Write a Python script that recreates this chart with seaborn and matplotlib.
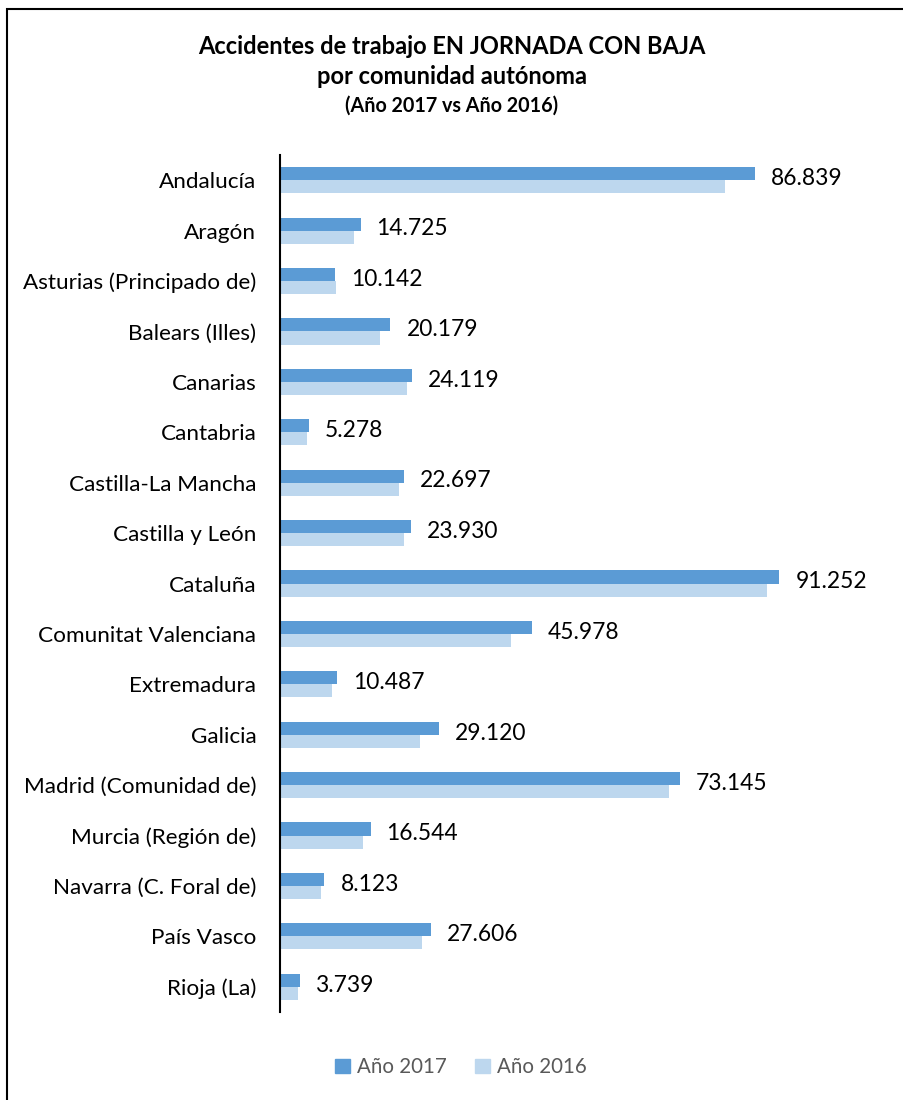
import pandas as pd
import matplotlib
matplotlib.use("Agg")
import matplotlib.pyplot as plt
import matplotlib.patches as mpatches
import seaborn as sns

# Data
comunidades = [
    "Andalucía", "Aragón", "Asturias (Principado de)", "Balears (Illes)",
    "Canarias", "Cantabria", "Castilla-La Mancha", "Castilla y León",
    "Cataluña", "Comunitat Valenciana", "Extremadura", "Galicia",
    "Madrid (Comunidad de)", "Murcia (Región de)", "Navarra (C. Foral de)",
    "País Vasco", "Rioja (La)",
]
valores_2017 = [86839, 14725, 10142, 20179, 24119, 5278, 22697, 23930,
                91252, 45978, 10487, 29120, 73145, 16544, 8123, 27606, 3739]
valores_2016 = [81350, 13530, 10300, 18280, 23220, 5000, 21750, 22670,
                89030, 42230, 9510, 25600, 71110, 15170, 7500, 25960, 3290]
series = ["Año 2017", "Año 2016"]
colores = ["#5B9BD5", "#BDD7EE"]

df = pd.DataFrame({
    "comunidad": comunidades * 2,
    "valor": valores_2017 + valores_2016,
    "anio": [series[0]] * len(comunidades) + [series[1]] * len(comunidades),
})

sns.set_theme(style="white")
plt.rcParams["font.family"] = ["Lato", "DejaVu Sans"]
plt.rcParams["text.color"] = "black"

W, H = 904, 1100
fig = plt.figure(figsize=(W / 100, H / 100), dpi=100)
ax = fig.add_axes([280 / W, 1 - 1012 / H, (860 - 280) / W, (1012 - 155) / H])

sns.barplot(data=df, y="comunidad", x="valor", hue="anio", palette=colores,
            saturation=1, orient="h", width=0.52, linewidth=0, ax=ax,
            legend=False)

ax.set_xlim(0, 106000)
ax.set_xlabel("")
ax.set_ylabel("")
ax.set_xticks([])
for side in ["top", "right", "bottom"]:
    ax.spines[side].set_visible(False)
ax.spines["left"].set_color("black")
ax.spines["left"].set_linewidth(1.5)
ax.tick_params(axis="y", length=0, pad=17, labelsize=16.2, labelcolor="black")

# value labels on the 2017 bars, nudged down a little like the original
etiquetas = [f"{v:,}".replace(",", ".") for v in valores_2017]
textos = ax.bar_label(ax.containers[0], labels=etiquetas, padding=11.5,
                      fontsize=16.4, color="black")
for t in textos:
    t.xyann = (11.5, -3.5)

# Titles
fig.text(0.5, 1 - 46 / H, "Accidentes de trabajo EN JORNADA CON BAJA",
         ha="center", va="center", fontsize=17, fontweight="bold")
fig.text(0.5, 1 - 76 / H, "por comunidad autónoma",
         ha="center", va="center", fontsize=17, fontweight="bold")
fig.text(0.5, 1 - 106 / H, "(Año 2017 vs Año 2016)",
         ha="center", va="center", fontsize=14.2, fontweight="bold")

# Legend
handles = [mpatches.Patch(color=c, label=s) for c, s in zip(colores, series)]
fig.legend(handles=handles, loc="center", bbox_to_anchor=(0.51, 1 - 1067 / H),
           ncol=2, frameon=False, handlelength=0.7, handleheight=0.7,
           handletextpad=0.35, columnspacing=1.4, fontsize=14.8,
           labelcolor="#595959")

# Outer border (open on right and bottom like the crop)
fig.add_artist(mpatches.Rectangle((7 / W, -0.1), 1.2, 1 - 9 / H + 0.1,
                                  transform=fig.transFigure, fill=False,
                                  edgecolor="black", linewidth=1.5))

fig.savefig("out.png", dpi=100)
